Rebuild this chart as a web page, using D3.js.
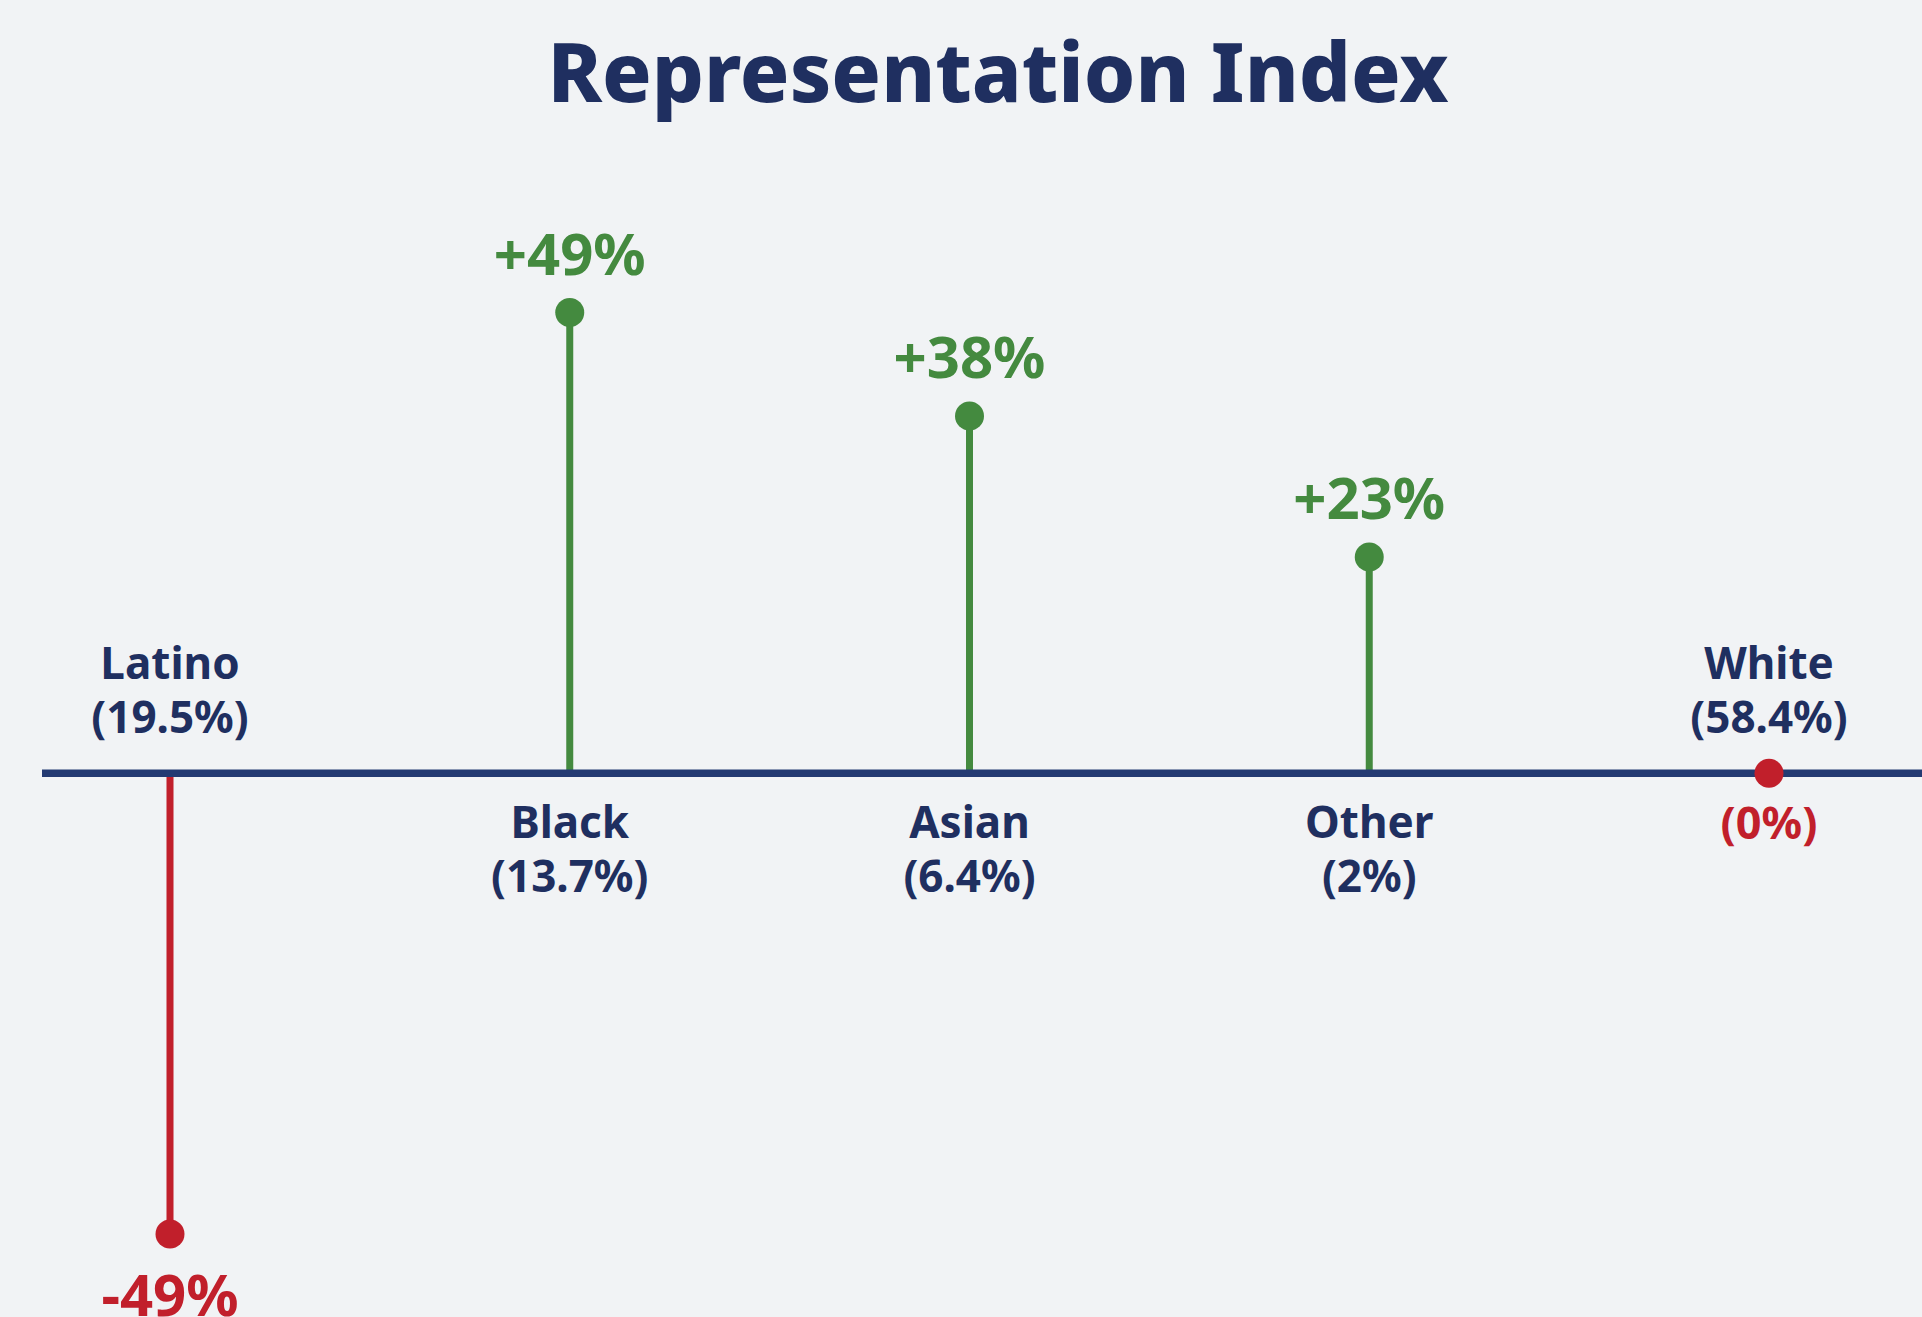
<!DOCTYPE html>
<html>
<head>
<meta charset="utf-8">
<script src="https://cdn.jsdelivr.net/npm/d3@7"></script>
<style>
  body { margin: 0; background: #f1f3f5; }
  svg { display: block; font-family: 'Noto Sans', 'Open Sans', sans-serif; font-weight: 700; }
</style>
</head>
<body>
<div id="chart"></div>
<script>
const groups = ['Latino', 'Black', 'Asian', 'Other', 'White'];
const shares = ['19.5%', '13.7%', '6.4%', '2%', '58.4%'];
const index = [-49, 49, 38, 23, 0];

const W = 1922, H = 1317;
const navy = '#1f2f60', green = '#448a3f', red = '#c11f2b';

const data = groups.map((g, i) => ({ group: g, share: shares[i], value: index[i] }));

const svg = d3.select('#chart')
  .append('svg')
  .attr('width', W)
  .attr('height', H)

const x = d3.scalePoint()
  .domain(groups)
  .range([170, 1769])

const y = d3.scaleLinear()
  .domain([-49, 49])
  .range([1234, 312.6])

svg.append('text')
  .attr('x', 998)
  .attr('y', 102)
  .attr('text-anchor', 'middle')
  .attr('fill', navy)
  .style('font-size', '82px')
  .style('font-weight', 800)
  .text('Representation Index')

const col = d => d.value > 0 ? green : red;

// stems
svg.selectAll('line.stem')
  .data(data.filter(d => d.value !== 0))
  .enter()
  .append('line')
  .attr('class', 'stem')
  .attr('x1', d => x(d.group))
  .attr('x2', d => x(d.group))
  .attr('y1', y(0))
  .attr('y2', d => y(d.value))
  .attr('stroke', col)
  .attr('stroke-width', 7)

// baseline
svg.append('line')
  .attr('x1', 42)
  .attr('x2', W)
  .attr('y1', y(0))
  .attr('y2', y(0))
  .attr('stroke', '#233a72')
  .attr('stroke-width', 7.5)

svg.selectAll('circle')
  .data(data)
  .enter()
  .append('circle')
  .attr('cx', d => x(d.group))
  .attr('cy', d => y(d.value))
  .attr('r', 14.5)
  .attr('fill', col)

// value labels
svg.selectAll('text.val')
  .data(data)
  .enter()
  .append('text')
  .attr('class', 'val')
  .attr('x', d => x(d.group))
  .attr('y', d => d.value > 0 ? y(d.value) - 38 : d.value < 0 ? y(d.value) + 82 : y(0) + 66)
  .attr('text-anchor', 'middle')
  .attr('fill', col)
  .style('font-size', d => d.value === 0 ? '45px' : '58px')
  .text(d => d.value > 0 ? `+${d.value}%` : d.value < 0 ? `-${Math.abs(d.value)}%` : `(${d.value}%)`)

// category labels: above the line when the stem goes down or is flat
const cat = svg.selectAll('text.cat')
  .data(data)
  .enter()
  .append('text')
  .attr('class', 'cat')
  .attr('text-anchor', 'middle')
  .attr('fill', navy)
  .style('font-size', '44px')
  .attr('y', d => d.value > 0 ? 838 : 679)

cat.append('tspan')
  .attr('x', d => x(d.group))
  .text(d => d.group)

cat.append('tspan')
  .attr('x', d => x(d.group))
  .attr('dy', 54)
  .text(d => `(${d.share})`)
</script>
</body>
</html>
